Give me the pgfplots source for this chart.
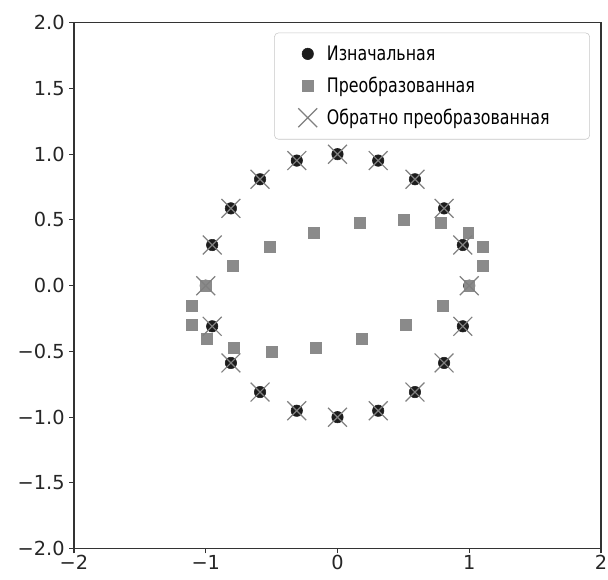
\documentclass[border=0pt]{standalone}
\usepackage{fontspec}
\setmainfont{DejaVu Sans}
\newfontfamily\legfont[FakeStretch=0.88]{DejaVu Sans Condensed}
\usepackage{pgfplots}
\pgfplotsset{compat=1.18}
\definecolor{ptdark}{HTML}{1C1C1C}
\definecolor{sqgray}{HTML}{8A8A8A}
\definecolor{xgray}{HTML}{808080}
\definecolor{axgray}{HTML}{333333}
\begin{document}
\begin{tikzpicture}
\begin{axis}[
  scale only axis,
  width=395.25pt, height=394.5pt,
  xmin=-2, xmax=2, ymin=-2, ymax=2,
  axis line style={axgray, line width=0.8pt},
  tick style={axgray, line width=0.8pt},
  tick align=outside,
  major tick length=3.5pt,
  xtick pos=left, ytick pos=left,
  xtick={-2,-1,0,1,2},
  xticklabels={−2,−1,0,1,2},
  ytick={-2,-1.5,-1,-0.5,0,0.5,1,1.5,2},
  yticklabels={−2.0,−1.5,−1.0,−0.5,0.0,0.5,1.0,1.5,2.0},
  tick label style={font=\fontsize{14.5}{16}\selectfont, text=black!85},
  xticklabel style={yshift=2pt},
  legend image code/.code={\path (0cm,0cm) (0.72cm,0cm); \draw[#1] plot coordinates {(0.3cm,0cm)};},
  legend cell align=left,
  legend style={at={(0.979,0.981)}, anchor=north east,
    draw=black!22, rounded corners=3pt, fill=white,
    font=\legfont\fontsize{15}{17}\selectfont,
    row sep=7pt, inner xsep=16pt, inner ysep=7.5pt},
]
\addplot[only marks, mark=*, mark size=4.3pt, draw=ptdark, fill=ptdark] coordinates {
(1,0) (0.9511,0.3090) (0.8090,0.5878) (0.5878,0.8090) (0.3090,0.9511)
(0,1) (-0.3090,0.9511) (-0.5878,0.8090) (-0.8090,0.5878) (-0.9511,0.3090)
(-1,0) (-0.9511,-0.3090) (-0.8090,-0.5878) (-0.5878,-0.8090) (-0.3090,-0.9511)
(0,-1) (0.3090,-0.9511) (0.5878,-0.8090) (0.8090,-0.5878) (0.9511,-0.3090)
};
\addlegendentry{Изначальная}
\addplot[only marks, mark=square*, mark size=4.1pt, draw=sqgray, fill=sqgray] coordinates {
(1,0) (1.1056,0.1545) (1.1029,0.2939) (0.9923,0.4045) (0.7846,0.4755)
(0.5,0.5) (0.1665,0.4755) (-0.1833,0.4045) (-0.5151,0.2939) (-0.7966,0.1545)
(-1,0) (-1.1056,-0.1545) (-1.1029,-0.2939) (-0.9923,-0.4045) (-0.7846,-0.4755)
(-0.5,-0.5) (-0.1665,-0.4755) (0.1833,-0.4045) (0.5151,-0.2939) (0.7966,-0.1545)
};
\addlegendentry{Преобразованная}
\addplot[only marks, mark=x, mark size=10pt, draw=xgray, line width=0.9pt] coordinates {
(1,0) (0.9511,0.3090) (0.8090,0.5878) (0.5878,0.8090) (0.3090,0.9511)
(0,1) (-0.3090,0.9511) (-0.5878,0.8090) (-0.8090,0.5878) (-0.9511,0.3090)
(-1,0) (-0.9511,-0.3090) (-0.8090,-0.5878) (-0.5878,-0.8090) (-0.3090,-0.9511)
(0,-1) (0.3090,-0.9511) (0.5878,-0.8090) (0.8090,-0.5878) (0.9511,-0.3090)
};
\addlegendentry{Обратно преобразованная\kern12pt}
\end{axis}
\pgfresetboundingbox
\path[use as bounding box] ([shift={(-55.5pt,-23.25pt)}]current axis.south west) rectangle ([shift={(5.25pt,17pt)}]current axis.north east);
\end{tikzpicture}
\end{document}
